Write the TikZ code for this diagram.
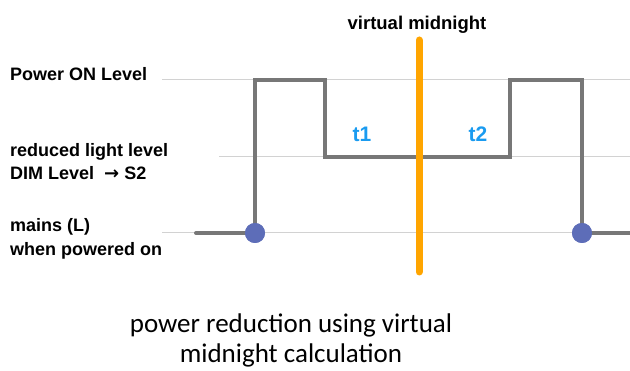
\documentclass[tikz,border=0pt]{standalone}
\usepackage{fontspec}
\setmainfont{Liberation Sans}
\newfontfamily\capfont{Carlito}
\newfontfamily\symfont{DejaVu Sans}
\usetikzlibrary{positioning}
\definecolor{signalgray}{HTML}{777777}
\definecolor{levelgray}{HTML}{D2D2D2}
\definecolor{midorange}{HTML}{FFA500}
\definecolor{dotblue}{HTML}{5D6DB8}
\definecolor{tblue}{HTML}{1A9BF0}

\begin{document}
\begin{tikzpicture}[x=1pt,y=-1pt]
		\tikzset{level/.style = {draw=levelgray, line width=1pt}}
		\tikzset{signal/.style = {draw=signalgray, line width=4pt}}
		\tikzset{dot/.style = {shape=circle, fill=dotblue, inner sep=0pt, minimum size=20pt}}
		\tikzset{lbl/.style = {anchor=base west, inner sep=0pt, font=\bfseries\fontsize{18}{23}\selectfont}}
		\tikzset{tlbl/.style = {anchor=base, inner sep=0pt, text=tblue, font=\bfseries\fontsize{21}{25}\selectfont}}

		\useasboundingbox (0,0) rectangle (630,371);

		% level lines
		\draw[level] (162,80) -- (630,80);
		\draw[level] (219,157) -- (630,157);
		\draw[level] (162,233) -- (630,233);

		% level labels
		\node[lbl] (on) at (10,81) {Power ON Level};
		\node[lbl] (red) at (10,157) {reduced light level};
		\node[lbl] (dim) at (10,180) {DIM Level\ \ {\symfont\bfseries →} S2};
		\node[lbl] (mains) at (10,232) {mains (L)};
		\node[lbl] (pow) at (10,256) {when powered on};

		% signal
		\coordinate (s0) at (196,233);
		\coordinate (p1) at (325,80);
		\coordinate (r1) at (510,157);
		\coordinate (p2) at (582,80);
		\coordinate (s1) at (630,233);
		\node[dot] (d1) at (255,233) {};
		\node[dot] (d2) at (582,233) {};

		\draw[signal, line join=miter, line cap=round] (s0) -- (d1.center) |- (p1) |- (r1) |- (p2) -- (d2.center) -- (s1);

		% virtual midnight
		\coordinate (vt) at (419,40);
		\coordinate (vb) at (419,272);
		\draw[midorange, line width=7pt, line cap=round] (vt) -- (vb);
		\node[anchor=base, inner sep=0pt, font=\bfseries\fontsize{18.5}{22}\selectfont] (vm) at (417,30) {virtual midnight};

		\node[dot] at (d1) {};
		\node[dot] at (d2) {};

		\node[tlbl] (t1) at (362,142) {t1};
		\node[tlbl] (t2) at (478,142) {t2};

		% caption
		\node[align=center, anchor=base, inner sep=0pt, font=\capfont\fontsize{27}{30}\selectfont] (cap) at (291,363) {power reduction using virtual\\midnight calculation};
	\end{tikzpicture}
\end{document}
